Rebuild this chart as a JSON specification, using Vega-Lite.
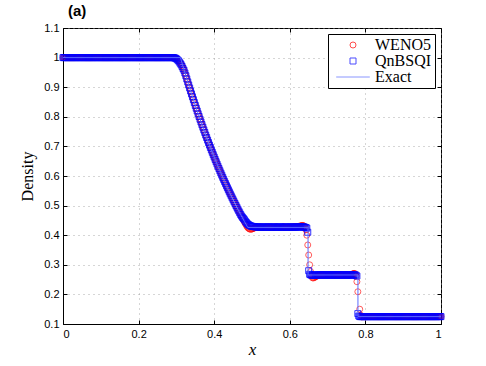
{
  "$schema": "https://vega.github.io/schema/vega-lite/v6.json",
  "width": 378,
  "height": 296,
  "autosize": "none",
  "padding": {"left": 63, "top": 28, "right": 45, "bottom": 42},
  "background": "white",
  "title": {"text": "(a)", "anchor": "start", "frame": "group", "font": "Liberation Sans", "fontSize": 15, "fontWeight": "bold", "color": "black", "offset": 3, "dx": 5},
  "config": {
    "view": {"stroke": "black", "strokeWidth": 1},
    "axis": {"labelFont": "Liberation Sans", "labelFontSize": 11, "labelColor": "black", "labelOverlap": false, "domainColor": "black", "tickColor": "black", "tickSize": -4, "gridDash": [1, 4], "gridColor": "#999999", "gridOpacity": 0.8, "titleFont": "Liberation Serif", "titleFontWeight": "normal", "titleColor": "black"}
  },
  "resolve": {"axis": {"x": "independent", "y": "independent"}},
  "datasets": {
    "num": [
      {"x":0,"w":1,"q":1},{"x":0.0025,"w":1,"q":1},{"x":0.005,"w":1,"q":1},{"x":0.0075,"w":1,"q":1},{"x":0.01,"w":1,"q":1},{"x":0.0125,"w":1,"q":1},{"x":0.015,"w":1,"q":1},{"x":0.0175,"w":1,"q":1},
      {"x":0.02,"w":1,"q":1},{"x":0.0225,"w":1,"q":1},{"x":0.025,"w":1,"q":1},{"x":0.0275,"w":1,"q":1},{"x":0.03,"w":1,"q":1},{"x":0.0325,"w":1,"q":1},{"x":0.035,"w":1,"q":1},{"x":0.0375,"w":1,"q":1},
      {"x":0.04,"w":1,"q":1},{"x":0.0425,"w":1,"q":1},{"x":0.045,"w":1,"q":1},{"x":0.0475,"w":1,"q":1},{"x":0.05,"w":1,"q":1},{"x":0.0525,"w":1,"q":1},{"x":0.055,"w":1,"q":1},{"x":0.0575,"w":1,"q":1},
      {"x":0.06,"w":1,"q":1},{"x":0.0625,"w":1,"q":1},{"x":0.065,"w":1,"q":1},{"x":0.0675,"w":1,"q":1},{"x":0.07,"w":1,"q":1},{"x":0.0725,"w":1,"q":1},{"x":0.075,"w":1,"q":1},{"x":0.0775,"w":1,"q":1},
      {"x":0.08,"w":1,"q":1},{"x":0.0825,"w":1,"q":1},{"x":0.085,"w":1,"q":1},{"x":0.0875,"w":1,"q":1},{"x":0.09,"w":1,"q":1},{"x":0.0925,"w":1,"q":1},{"x":0.095,"w":1,"q":1},{"x":0.0975,"w":1,"q":1},
      {"x":0.1,"w":1,"q":1},{"x":0.1025,"w":1,"q":1},{"x":0.105,"w":1,"q":1},{"x":0.1075,"w":1,"q":1},{"x":0.11,"w":1,"q":1},{"x":0.1125,"w":1,"q":1},{"x":0.115,"w":1,"q":1},{"x":0.1175,"w":1,"q":1},
      {"x":0.12,"w":1,"q":1},{"x":0.1225,"w":1,"q":1},{"x":0.125,"w":1,"q":1},{"x":0.1275,"w":1,"q":1},{"x":0.13,"w":1,"q":1},{"x":0.1325,"w":1,"q":1},{"x":0.135,"w":1,"q":1},{"x":0.1375,"w":1,"q":1},
      {"x":0.14,"w":1,"q":1},{"x":0.1425,"w":1,"q":1},{"x":0.145,"w":1,"q":1},{"x":0.1475,"w":1,"q":1},{"x":0.15,"w":1,"q":1},{"x":0.1525,"w":1,"q":1},{"x":0.155,"w":1,"q":1},{"x":0.1575,"w":1,"q":1},
      {"x":0.16,"w":1,"q":1},{"x":0.1625,"w":1,"q":1},{"x":0.165,"w":1,"q":1},{"x":0.1675,"w":1,"q":1},{"x":0.17,"w":1,"q":1},{"x":0.1725,"w":1,"q":1},{"x":0.175,"w":1,"q":1},{"x":0.1775,"w":1,"q":1},
      {"x":0.18,"w":1,"q":1},{"x":0.1825,"w":1,"q":1},{"x":0.185,"w":1,"q":1},{"x":0.1875,"w":1,"q":1},{"x":0.19,"w":1,"q":1},{"x":0.1925,"w":1,"q":1},{"x":0.195,"w":1,"q":1},{"x":0.1975,"w":1,"q":1},
      {"x":0.2,"w":1,"q":1},{"x":0.2025,"w":1,"q":1},{"x":0.205,"w":1,"q":1},{"x":0.2075,"w":1,"q":1},{"x":0.21,"w":1,"q":1},{"x":0.2125,"w":1,"q":1},{"x":0.215,"w":1,"q":1},{"x":0.2175,"w":1,"q":1},
      {"x":0.22,"w":1,"q":1},{"x":0.2225,"w":1,"q":1},{"x":0.225,"w":1,"q":1},{"x":0.2275,"w":1,"q":1},{"x":0.23,"w":1,"q":1},{"x":0.2325,"w":1,"q":1},{"x":0.235,"w":1,"q":1},{"x":0.2375,"w":1,"q":1},
      {"x":0.24,"w":1,"q":1},{"x":0.2425,"w":1,"q":1},{"x":0.245,"w":1,"q":1},{"x":0.2475,"w":1,"q":1},{"x":0.25,"w":1,"q":1},{"x":0.2525,"w":1,"q":1},{"x":0.255,"w":1,"q":1},{"x":0.2575,"w":1,"q":1},
      {"x":0.26,"w":1,"q":1},{"x":0.2625,"w":1,"q":1},{"x":0.265,"w":1,"q":1},{"x":0.2675,"w":1,"q":1},{"x":0.27,"w":1,"q":1},{"x":0.2725,"w":1,"q":1},{"x":0.275,"w":1,"q":1},{"x":0.2775,"w":1,"q":1},
      {"x":0.28,"w":1,"q":1},{"x":0.2825,"w":1,"q":1},{"x":0.285,"w":1,"q":1},{"x":0.2875,"w":1,"q":1},{"x":0.29,"w":1,"q":1},{"x":0.2925,"w":1,"q":1},
      {"x":0.295,"w":0.999,"q":0.999},{"x":0.2975,"w":0.998,"q":0.998},{"x":0.3,"w":0.997,"q":0.996},{"x":0.3025,"w":0.994,"q":0.993},{"x":0.305,"w":0.991,"q":0.99},{"x":0.3075,"w":0.9865,"q":0.9855},
      {"x":0.31,"w":0.982,"q":0.981},{"x":0.3125,"w":0.977,"q":0.976},{"x":0.315,"w":0.972,"q":0.97},{"x":0.3175,"w":0.964,"q":0.963},{"x":0.32,"w":0.958,"q":0.957},{"x":0.3225,"w":0.948,"q":0.948},
      {"x":0.325,"w":0.9386,"q":0.9386},{"x":0.3275,"w":0.928,"q":0.928},{"x":0.33,"w":0.9178,"q":0.9178},{"x":0.3325,"w":0.9075,"q":0.9075},{"x":0.335,"w":0.8974,"q":0.8974},{"x":0.3375,"w":0.8873,"q":0.8873},
      {"x":0.34,"w":0.8774,"q":0.8774},{"x":0.3425,"w":0.8675,"q":0.8675},{"x":0.345,"w":0.8578,"q":0.8578},{"x":0.3475,"w":0.848,"q":0.848},{"x":0.35,"w":0.8385,"q":0.8385},{"x":0.3525,"w":0.8289,"q":0.8289},
      {"x":0.355,"w":0.8196,"q":0.8196},{"x":0.3575,"w":0.8101,"q":0.8101},{"x":0.36,"w":0.801,"q":0.801},{"x":0.3625,"w":0.7917,"q":0.7917},{"x":0.365,"w":0.7827,"q":0.7827},{"x":0.3675,"w":0.7736,"q":0.7736},
      {"x":0.37,"w":0.7648,"q":0.7648},{"x":0.3725,"w":0.7558,"q":0.7558},{"x":0.375,"w":0.7472,"q":0.7472},{"x":0.3775,"w":0.7384,"q":0.7384},{"x":0.38,"w":0.73,"q":0.73},{"x":0.3825,"w":0.7213,"q":0.7213},
      {"x":0.385,"w":0.713,"q":0.713},{"x":0.3875,"w":0.7045,"q":0.7045},{"x":0.39,"w":0.6963,"q":0.6963},{"x":0.3925,"w":0.688,"q":0.688},{"x":0.395,"w":0.68,"q":0.68},{"x":0.3975,"w":0.6719,"q":0.6719},
      {"x":0.4,"w":0.664,"q":0.664},{"x":0.4025,"w":0.656,"q":0.656},{"x":0.405,"w":0.6483,"q":0.6483},{"x":0.4075,"w":0.6404,"q":0.6404},{"x":0.41,"w":0.6328,"q":0.6328},{"x":0.4125,"w":0.6252,"q":0.6252},
      {"x":0.415,"w":0.6177,"q":0.6177},{"x":0.4175,"w":0.6102,"q":0.6102},{"x":0.42,"w":0.603,"q":0.603},{"x":0.4225,"w":0.5955,"q":0.5955},{"x":0.425,"w":0.5884,"q":0.5884},{"x":0.4275,"w":0.5811,"q":0.5811},
      {"x":0.43,"w":0.5742,"q":0.5742},{"x":0.4325,"w":0.567,"q":0.567},{"x":0.435,"w":0.5601,"q":0.5601},{"x":0.4375,"w":0.5532,"q":0.5532},{"x":0.44,"w":0.5464,"q":0.5464},{"x":0.4425,"w":0.5396,"q":0.5396},
      {"x":0.445,"w":0.533,"q":0.533},{"x":0.4475,"w":0.5263,"q":0.5263},{"x":0.45,"w":0.5198,"q":0.5198},{"x":0.4525,"w":0.5132,"q":0.5132},{"x":0.455,"w":0.5069,"q":0.5069},{"x":0.4575,"w":0.5005,"q":0.5005},
      {"x":0.46,"w":0.4943,"q":0.4943},{"x":0.4625,"w":0.4879,"q":0.4879},{"x":0.465,"w":0.4818,"q":0.4818},{"x":0.4675,"w":0.4757,"q":0.4757},{"x":0.47,"w":0.4697,"q":0.4697},{"x":0.4725,"w":0.4636,"q":0.4645},
      {"x":0.475,"w":0.4578,"q":0.46},{"x":0.4775,"w":0.451,"q":0.456},{"x":0.48,"w":0.445,"q":0.452},{"x":0.4825,"w":0.439,"q":0.447},{"x":0.485,"w":0.433,"q":0.443},{"x":0.4875,"w":0.428,"q":0.439},
      {"x":0.49,"w":0.424,"q":0.436},{"x":0.4925,"w":0.422,"q":0.434},{"x":0.495,"w":0.42,"q":0.432},{"x":0.4975,"w":0.42,"q":0.431},{"x":0.5,"w":0.421,"q":0.43},{"x":0.5025,"w":0.422,"q":0.4295},
      {"x":0.505,"w":0.424,"q":0.429},{"x":0.5075,"w":0.425,"q":0.4285},{"x":0.51,"w":0.426,"q":0.428},{"x":0.5125,"w":0.427,"q":0.428},{"x":0.515,"w":0.427,"q":0.428},{"x":0.5175,"w":0.427,"q":0.427},
      {"x":0.52,"w":0.427,"q":0.427},{"x":0.5225,"w":0.428,"q":0.427},{"x":0.525,"w":0.428,"q":0.427},{"x":0.5275,"w":0.427,"q":0.428},{"x":0.53,"w":0.427,"q":0.428},{"x":0.5325,"w":0.427,"q":0.427},
      {"x":0.535,"w":0.427,"q":0.427},{"x":0.5375,"w":0.427,"q":0.427},{"x":0.54,"w":0.427,"q":0.427},{"x":0.5425,"w":0.428,"q":0.428},{"x":0.545,"w":0.428,"q":0.428},{"x":0.5475,"w":0.427,"q":0.427},
      {"x":0.55,"w":0.427,"q":0.427},{"x":0.5525,"w":0.427,"q":0.427},{"x":0.555,"w":0.427,"q":0.427},{"x":0.5575,"w":0.427,"q":0.428},{"x":0.56,"w":0.427,"q":0.428},{"x":0.5625,"w":0.428,"q":0.427},
      {"x":0.565,"w":0.428,"q":0.427},{"x":0.5675,"w":0.427,"q":0.427},{"x":0.57,"w":0.427,"q":0.427},{"x":0.5725,"w":0.427,"q":0.428},{"x":0.575,"w":0.427,"q":0.428},{"x":0.5775,"w":0.427,"q":0.427},
      {"x":0.58,"w":0.427,"q":0.427},{"x":0.5825,"w":0.428,"q":0.427},{"x":0.585,"w":0.428,"q":0.427},{"x":0.5875,"w":0.427,"q":0.428},{"x":0.59,"w":0.427,"q":0.428},{"x":0.5925,"w":0.427,"q":0.427},
      {"x":0.595,"w":0.427,"q":0.427},{"x":0.5975,"w":0.427,"q":0.427},{"x":0.6,"w":0.427,"q":0.427},{"x":0.6025,"w":0.428,"q":0.428},{"x":0.605,"w":0.428,"q":0.428},{"x":0.6075,"w":0.428,"q":0.427},
      {"x":0.61,"w":0.428,"q":0.427},{"x":0.6125,"w":0.429,"q":0.427},{"x":0.615,"w":0.429,"q":0.427},{"x":0.6175,"w":0.429,"q":0.428},{"x":0.62,"w":0.429,"q":0.428},{"x":0.6225,"w":0.43,"q":0.428},
      {"x":0.625,"w":0.43,"q":0.428},{"x":0.6275,"w":0.431,"q":0.428},{"x":0.63,"w":0.432,"q":0.428},{"x":0.6325,"w":0.433,"q":0.428},{"x":0.635,"w":0.433,"q":0.428},{"x":0.6375,"w":0.431,"q":0.428},
      {"x":0.64,"w":0.428,"q":0.427},{"x":0.6425,"w":0.418,"q":0.426},{"x":0.645,"w":0.4,"q":0.424},{"x":0.6475,"w":0.367,"q":0.41},{"x":0.65,"w":0.333,"q":0.28},{"x":0.6525,"w":0.3,"q":0.268},
      {"x":0.655,"w":0.277,"q":0.266},{"x":0.6575,"w":0.262,"q":0.265},{"x":0.66,"w":0.256,"q":0.265},{"x":0.6625,"w":0.2555,"q":0.265},{"x":0.665,"w":0.257,"q":0.265},{"x":0.6675,"w":0.259,"q":0.2656},
      {"x":0.67,"w":0.261,"q":0.2656},{"x":0.6725,"w":0.263,"q":0.2656},{"x":0.675,"w":0.264,"q":0.2656},{"x":0.6775,"w":0.265,"q":0.2656},{"x":0.68,"w":0.2656,"q":0.2656},{"x":0.6825,"w":0.2656,"q":0.2656},
      {"x":0.685,"w":0.2656,"q":0.2656},{"x":0.6875,"w":0.2656,"q":0.2656},{"x":0.69,"w":0.2656,"q":0.2656},{"x":0.6925,"w":0.2656,"q":0.2656},{"x":0.695,"w":0.2656,"q":0.2656},{"x":0.6975,"w":0.2656,"q":0.2656},
      {"x":0.7,"w":0.2656,"q":0.2656},{"x":0.7025,"w":0.2656,"q":0.2656},{"x":0.705,"w":0.2656,"q":0.2656},{"x":0.7075,"w":0.2656,"q":0.2656},{"x":0.71,"w":0.2656,"q":0.2656},{"x":0.7125,"w":0.2656,"q":0.2656},
      {"x":0.715,"w":0.2656,"q":0.2656},{"x":0.7175,"w":0.2656,"q":0.2656},{"x":0.72,"w":0.2656,"q":0.2656},{"x":0.7225,"w":0.2656,"q":0.2656},{"x":0.725,"w":0.2656,"q":0.2656},{"x":0.7275,"w":0.2656,"q":0.2656},
      {"x":0.73,"w":0.2656,"q":0.2656},{"x":0.7325,"w":0.2656,"q":0.2656},{"x":0.735,"w":0.2656,"q":0.2656},{"x":0.7375,"w":0.2656,"q":0.2656},{"x":0.74,"w":0.2656,"q":0.2656},{"x":0.7425,"w":0.2656,"q":0.2656},
      {"x":0.745,"w":0.2656,"q":0.2656},{"x":0.7475,"w":0.2656,"q":0.2656},{"x":0.75,"w":0.2656,"q":0.2656},{"x":0.7525,"w":0.2656,"q":0.2656},{"x":0.755,"w":0.2656,"q":0.2656},{"x":0.7575,"w":0.2656,"q":0.2656},
      {"x":0.76,"w":0.2656,"q":0.2656},{"x":0.7625,"w":0.2665,"q":0.2656},{"x":0.765,"w":0.268,"q":0.2656},{"x":0.7675,"w":0.27,"q":0.2658},{"x":0.77,"w":0.271,"q":0.266},{"x":0.7725,"w":0.27,"q":0.266},
      {"x":0.775,"w":0.262,"q":0.265},{"x":0.7775,"w":0.243,"q":0.262},{"x":0.78,"w":0.209,"q":0.135},{"x":0.7825,"q":0.127},{"x":0.785,"w":0.15,"q":0.125},{"x":0.7875,"w":0.13,"q":0.125},
      {"x":0.79,"w":0.124,"q":0.125},{"x":0.7925,"w":0.125,"q":0.125},{"x":0.795,"w":0.125,"q":0.125},{"x":0.7975,"w":0.125,"q":0.125},{"x":0.8,"w":0.125,"q":0.125},{"x":0.8025,"w":0.125,"q":0.125},
      {"x":0.805,"w":0.125,"q":0.125},{"x":0.8075,"w":0.125,"q":0.125},{"x":0.81,"w":0.125,"q":0.125},{"x":0.8125,"w":0.125,"q":0.125},{"x":0.815,"w":0.125,"q":0.125},{"x":0.8175,"w":0.125,"q":0.125},
      {"x":0.82,"w":0.125,"q":0.125},{"x":0.8225,"w":0.125,"q":0.125},{"x":0.825,"w":0.125,"q":0.125},{"x":0.8275,"w":0.125,"q":0.125},{"x":0.83,"w":0.125,"q":0.125},{"x":0.8325,"w":0.125,"q":0.125},
      {"x":0.835,"w":0.125,"q":0.125},{"x":0.8375,"w":0.125,"q":0.125},{"x":0.84,"w":0.125,"q":0.125},{"x":0.8425,"w":0.125,"q":0.125},{"x":0.845,"w":0.125,"q":0.125},{"x":0.8475,"w":0.125,"q":0.125},
      {"x":0.85,"w":0.125,"q":0.125},{"x":0.8525,"w":0.125,"q":0.125},{"x":0.855,"w":0.125,"q":0.125},{"x":0.8575,"w":0.125,"q":0.125},{"x":0.86,"w":0.125,"q":0.125},{"x":0.8625,"w":0.125,"q":0.125},
      {"x":0.865,"w":0.125,"q":0.125},{"x":0.8675,"w":0.125,"q":0.125},{"x":0.87,"w":0.125,"q":0.125},{"x":0.8725,"w":0.125,"q":0.125},{"x":0.875,"w":0.125,"q":0.125},{"x":0.8775,"w":0.125,"q":0.125},
      {"x":0.88,"w":0.125,"q":0.125},{"x":0.8825,"w":0.125,"q":0.125},{"x":0.885,"w":0.125,"q":0.125},{"x":0.8875,"w":0.125,"q":0.125},{"x":0.89,"w":0.125,"q":0.125},{"x":0.8925,"w":0.125,"q":0.125},
      {"x":0.895,"w":0.125,"q":0.125},{"x":0.8975,"w":0.125,"q":0.125},{"x":0.9,"w":0.125,"q":0.125},{"x":0.9025,"w":0.125,"q":0.125},{"x":0.905,"w":0.125,"q":0.125},{"x":0.9075,"w":0.125,"q":0.125},
      {"x":0.91,"w":0.125,"q":0.125},{"x":0.9125,"w":0.125,"q":0.125},{"x":0.915,"w":0.125,"q":0.125},{"x":0.9175,"w":0.125,"q":0.125},{"x":0.92,"w":0.125,"q":0.125},{"x":0.9225,"w":0.125,"q":0.125},
      {"x":0.925,"w":0.125,"q":0.125},{"x":0.9275,"w":0.125,"q":0.125},{"x":0.93,"w":0.125,"q":0.125},{"x":0.9325,"w":0.125,"q":0.125},{"x":0.935,"w":0.125,"q":0.125},{"x":0.9375,"w":0.125,"q":0.125},
      {"x":0.94,"w":0.125,"q":0.125},{"x":0.9425,"w":0.125,"q":0.125},{"x":0.945,"w":0.125,"q":0.125},{"x":0.9475,"w":0.125,"q":0.125},{"x":0.95,"w":0.125,"q":0.125},{"x":0.9525,"w":0.125,"q":0.125},
      {"x":0.955,"w":0.125,"q":0.125},{"x":0.9575,"w":0.125,"q":0.125},{"x":0.96,"w":0.125,"q":0.125},{"x":0.9625,"w":0.125,"q":0.125},{"x":0.965,"w":0.125,"q":0.125},{"x":0.9675,"w":0.125,"q":0.125},
      {"x":0.97,"w":0.125,"q":0.125},{"x":0.9725,"w":0.125,"q":0.125},{"x":0.975,"w":0.125,"q":0.125},{"x":0.9775,"w":0.125,"q":0.125},{"x":0.98,"w":0.125,"q":0.125},{"x":0.9825,"w":0.125,"q":0.125},
      {"x":0.985,"w":0.125,"q":0.125},{"x":0.9875,"w":0.125,"q":0.125},{"x":0.99,"w":0.125,"q":0.125},{"x":0.9925,"w":0.125,"q":0.125},{"x":0.995,"w":0.125,"q":0.125},{"x":0.9975,"w":0.125,"q":0.125},
      {"x":1,"w":0.125,"q":0.125}
    ],
    "exact": [
      {"o":0,"x":0,"y":1},{"o":1,"x":0.3107,"y":1},{"o":2,"x":0.32,"y":0.9597},{"o":3,"x":0.33,"y":0.9178},{"o":4,"x":0.34,"y":0.8774},{"o":5,"x":0.35,"y":0.8385},
      {"o":6,"x":0.36,"y":0.801},{"o":7,"x":0.37,"y":0.7648},{"o":8,"x":0.38,"y":0.73},{"o":9,"x":0.39,"y":0.6963},{"o":10,"x":0.4,"y":0.664},{"o":11,"x":0.41,"y":0.6328},
      {"o":12,"x":0.42,"y":0.603},{"o":13,"x":0.43,"y":0.5742},{"o":14,"x":0.44,"y":0.5464},{"o":15,"x":0.45,"y":0.5198},{"o":16,"x":0.46,"y":0.4943},{"o":17,"x":0.47,"y":0.4697},
      {"o":18,"x":0.48,"y":0.4462},{"o":19,"x":0.4888,"y":0.4263},{"o":20,"x":0.6483,"y":0.4263},{"o":21,"x":0.6483,"y":0.2656},{"o":22,"x":0.7803,"y":0.2656},{"o":23,"x":0.7803,"y":0.125},{"o":24,"x":1,"y":0.125}
    ]
  },
  "layer": [
    {
      "data": {"name": "num"},
      "mark": {"type": "point", "filled": false, "size": 36, "strokeWidth": 0.9, "shape": "circle"},
      "encoding": {
        "x": {"field": "x", "type": "quantitative", "scale": {"domain": [0, 1], "nice": false}, "axis": {"orient": "bottom", "values": [0, 0.2, 0.4, 0.6, 0.8, 1], "tickCount": 20, "title": "x", "titleFontStyle": "italic", "titleFontSize": 17, "titlePadding": 2, "labelPadding": 8, "grid": true, "format": "~g"}},
        "y": {"field": "w", "type": "quantitative", "scale": {"domain": [0.1, 1.1], "nice": false, "zero": false}, "axis": {"orient": "left", "values": [0.1, 0.2, 0.3, 0.4, 0.5, 0.6, 0.7, 0.8, 0.9, 1, 1.1], "tickCount": 20, "title": "Density", "titleFontSize": 16, "titlePadding": 8, "labelPadding": 8, "grid": true, "format": "~g"}},
        "color": {"datum": "WENO5", "type": "nominal", "scale": {"domain": ["WENO5", "QnBSQI", "Exact"], "range": ["#ff0000", "#0000ff", "#5a6cff"]},
          "legend": {"title": null, "orient": "top-right", "offset": 6, "strokeColor": "black", "fillColor": "white", "padding": 3, "labelFont": "Liberation Serif", "labelFontSize": 16, "labelColor": "black", "symbolOffset": 14, "labelOffset": 14, "rowPadding": 0, "symbolSize": 36, "symbolStrokeWidth": 1}},
        "shape": {"datum": "WENO5", "type": "nominal", "scale": {"domain": ["WENO5", "QnBSQI", "Exact"], "range": ["circle", "square", "M-5.6,0H5.6"]},
          "legend": {"title": null, "orient": "top-right", "offset": 6, "strokeColor": "black", "fillColor": "white", "padding": 3, "labelFont": "Liberation Serif", "labelFontSize": 16, "labelColor": "black", "symbolOffset": 14, "labelOffset": 14, "rowPadding": 0, "symbolSize": 36, "symbolStrokeWidth": 1}}
      }
    },
    {
      "data": {"name": "num"},
      "mark": {"type": "point", "filled": false, "size": 36, "strokeWidth": 0.8, "opacity": 1, "shape": "square"},
      "encoding": {
        "x": {"field": "x", "type": "quantitative", "axis": {"orient": "top", "values": [0, 0.2, 0.4, 0.6, 0.8, 1], "tickCount": 20, "labels": false, "title": null, "grid": false, "domain": false}},
        "y": {"field": "q", "type": "quantitative", "axis": {"orient": "right", "values": [0.1, 0.2, 0.3, 0.4, 0.5, 0.6, 0.7, 0.8, 0.9, 1, 1.1], "tickCount": 20, "labels": false, "title": null, "grid": false, "domain": false}},
        "color": {"datum": "QnBSQI", "type": "nominal", "legend": null},
        "shape": {"datum": "QnBSQI", "type": "nominal", "legend": null}
      }
    },
    {
      "data": {"name": "exact"},
      "mark": {"type": "line", "strokeWidth": 1},
      "encoding": {
        "x": {"field": "x", "type": "quantitative", "axis": null},
        "y": {"field": "y", "type": "quantitative", "axis": null},
        "order": {"field": "o", "type": "quantitative"},
        "color": {"datum": "Exact", "type": "nominal", "legend": null}
      }
    }
  ]
}
